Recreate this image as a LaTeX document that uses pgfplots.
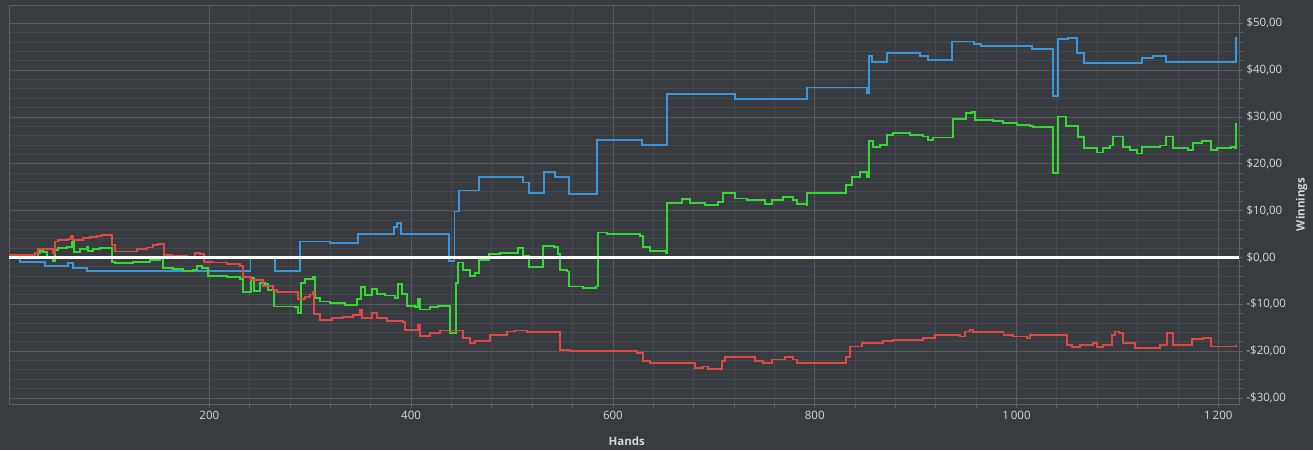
\documentclass[border=0pt]{standalone}
\usepackage{pgfplots}
\pgfplotsset{compat=1.18}
\usepackage{fontspec}
\setmainfont{Open Sans}
\definecolor{bg}{HTML}{383B3F}
\definecolor{axisc}{HTML}{5C5F63}
\definecolor{majgrid}{HTML}{575A5E}
\definecolor{mingrid}{HTML}{46494D}
\definecolor{txt}{HTML}{D6D6D6}
\definecolor{sblue}{HTML}{3A96D8}
\definecolor{sgreen}{HTML}{33D833}
\definecolor{sred}{HTML}{E04848}
\begin{document}
\begin{tikzpicture}
\fill[bg] (-9pt,-46pt) rectangle (1304pt,404pt);
\begin{axis}[
  at={(0pt,0pt)}, anchor=south west,
  scale only axis, width=1230pt, height=399pt,
  xmin=1.5, xmax=1220.5, ymin=-31.3, ymax=53.9,
  axis background/.style={fill=bg},
  axis line style={draw=axisc, line width=0.8pt},
  xtick={200,400,...,1200},
  xticklabels={200,400,600,800,1\,000,1\,200},
  minor x tick num=4,
  ytick={-30,-20,...,50},
  yticklabels={{-\$30,00},{-\$20,00},{-\$10,00},{\$0,00},{\$10,00},{\$20,00},{\$30,00},{\$40,00},{\$50,00}},
  minor y tick num=4,
  grid=both,
  major grid style={draw=majgrid, line width=0.8pt},
  minor grid style={draw=mingrid, line width=0.8pt},
  tick align=outside,
  xtick pos=left, ytick pos=right,
  xticklabel pos=left, yticklabel pos=right,
  major tick length=4pt, minor tick length=4pt,
  tick style={draw=axisc, line width=0.8pt},
  ticklabel style={text=txt, font=\fontsize{11.5}{13}\selectfont},
  yticklabel style={anchor=west},
  clip=true,
]
\addplot[sblue, line width=1.8pt, const plot] coordinates {
(1.5,0) (12.4,-0.9) (37.2,-1.8) (60,-1.2) (65,-2.3) (78.8,-2.9) (240.8,-0.1) (265,-2.9) (290,3.4) (319.6,3.0) (347,5.0) (383,6.5) (386,7.4) (389.7,5.0) (437.5,-0.7) (443,9.8) (447.5,14.3) (467.3,17.1) (510.6,16.0) (516.8,13.7) (531.7,18.3) (542.6,17.1) (556.5,13.6) (584,25.1) (628.8,24.0) (653.3,34.9) (721,33.8) (792,36.3) (851.6,35.1) (853.8,43.0) (856.7,41.8) (871.4,43.6) (904.4,43.0) (912.3,42.2) (935.8,46.1) (958,45.5) (964.8,45.2) (1015,44.5) (1036,34.5) (1041,46.6) (1051,46.8) (1060,43.7) (1067,41.5) (1124,42.5) (1135.3,43.0) (1148.4,41.8) (1217.2,46.8) (1218,46.8)
};
\addplot[sgreen, line width=1.8pt, const plot] coordinates {
(1.5,0.5) (25,0.1) (30,0.9) (32,1.45) (35,1.2) (39,0.2) (45,-0.75) (47,1.6) (50,2.0) (59,2.3) (64,3.4) (66,1.2) (72,1.75) (79,2.2) (80,1.45) (85,1.75) (92,2.0) (101.6,2.1) (103.6,-0.9) (106.5,-1.25) (124.4,-0.9) (141,-0.5) (151,0) (154,-2.3) (164,-2.5) (174,-2.9) (184,-2.7) (188,-1.8) (193,-2.3) (199,-3.95) (217.5,-4.2) (230.4,-4.65) (233.7,-7.3) (241,-4.4) (244.3,-7.1) (250.2,-5.4) (255.2,-5.7) (258.2,-6.9) (264,-10.5) (285,-10.6) (288,-11.9) (290.6,-5.5) (295,-4.65) (302.8,-4.1) (304.8,-8.7) (309.7,-9.4) (319.6,-9.8) (334.5,-10.1) (346,-8.9) (350.4,-6.4) (354.3,-8.0) (361,-6.8) (366,-7.8) (374,-8.15) (384,-8.7) (387,-5.7) (390.7,-7.8) (395.6,-10.35) (403.9,-10.6) (406.8,-8.9) (408.8,-11.1) (418.7,-10.6) (426.7,-10.35) (438.5,-16.2) (444.5,-5.5) (446.5,-1.1) (451.5,-2.7) (458.4,-3.9) (463.3,-3.4) (467.3,-0.5) (477.2,0.75) (488,1.0) (506,2.0) (510.6,0.3) (516.8,-2.0) (530.7,2.45) (541.6,2.2) (545.3,0.75) (547.6,-2.7) (554.2,-3.0) (556.5,-6.2) (570.4,-6.6) (583.3,-6.2) (585.2,5.3) (593.9,5.0) (626.9,4.6) (630,2.3) (636.8,1.4) (652.6,1.0) (654,11.7) (668.3,12.4) (676.4,11.7) (691.3,11.2) (704.5,11.9) (709.4,13.7) (721,12.6) (732.6,12.3) (750.7,11.35) (757.4,12.3) (768.9,12.85) (778.8,12.3) (782.2,11.35) (792,11.2) (792.7,13.7) (811.9,13.8) (831,15.5) (836.6,17.25) (845,18.3) (852.1,17.1) (854,24.9) (858,23.5) (864.7,24.0) (871.4,26.2) (877.7,26.5) (894.4,26.2) (907.3,25.8) (912.3,25.1) (917.2,25.6) (936.7,29.6) (950,30.8) (955.6,31.1) (959,29.4) (976.7,29.2) (986.6,28.65) (1000.2,28.3) (1013.4,28.1) (1016.4,27.8) (1036,18.0) (1041,30.1) (1049,28.1) (1061.3,25.65) (1067,23.3) (1079.5,22.4) (1086,23.45) (1092.7,23.9) (1096,25.8) (1105.2,23.65) (1112.5,23.0) (1119.2,22.2) (1124,23.65) (1142.2,23.9) (1148.4,25.8) (1155.4,23.3) (1170.3,22.95) (1174.6,24.5) (1183.5,24.9) (1192.5,22.95) (1198.4,23.3) (1212.3,23.65) (1216.6,23.3) (1217.6,28.5) (1218,28.5)
};
\addplot[sred, line width=1.8pt, const plot] coordinates {
(1.5,0.5) (25,0.1) (27,0.9) (30,1.75) (45.4,1.0) (47,3.4) (50.3,3.7) (60.3,4.0) (62.6,4.6) (65.2,3.7) (75,4.2) (81.8,4.3) (88.4,4.6) (93.4,4.8) (101.6,4.9) (103.3,2.7) (106.5,1.25) (128,1.75) (138,2.1) (144.5,2.7) (149.5,2.9) (155,0.5) (162.7,0.3) (177.6,0.1) (185.8,0.9) (190.8,0.7) (194.7,-0.9) (204,-1.1) (217.2,-1.4) (230.4,-1.8) (233.7,-4.2) (241,-4.8) (253.5,-6.1) (263.4,-6.9) (266.8,-7.3) (288.2,-8.9) (294.8,-8.5) (299.8,-7.9) (303,-7.3) (304,-12.1) (309.7,-13.3) (321.3,-12.9) (332.8,-12.8) (342.7,-12.3) (349.4,-11.2) (351,-12.9) (361,-11.9) (366,-12.9) (375.8,-13.5) (392.3,-13.8) (394,-15.5) (407,-14.4) (408.8,-16.8) (418.7,-16.1) (428.6,-15.6) (451.7,-17.25) (458.4,-18.3) (463.3,-17.9) (478.2,-16.5) (494.7,-15.8) (503,-15.6) (514.6,-16.0) (547.6,-19.7) (557.5,-20.0) (623.6,-20.4) (630,-22.2) (636.8,-22.5) (660,-22.6) (676.4,-22.5) (681.4,-23.65) (689.6,-23.3) (694.6,-23.9) (707.8,-22.2) (711,-21.3) (740.8,-22.2) (749,-22.5) (757.4,-21.8) (770.6,-21.3) (778.8,-21.8) (782.2,-22.5) (792,-22.6) (831,-21.2) (835,-19.0) (846.6,-18.2) (868,-17.8) (877.9,-17.6) (907.6,-17.25) (919.2,-16.5) (944,-16.9) (949,-15.8) (953.9,-15.4) (957.2,-16.0) (987,-16.5) (996.8,-16.9) (1010,-17.2) (1013.4,-16.5) (1046.4,-16.6) (1049.7,-18.7) (1054.7,-19.2) (1063,-18.7) (1076,-18.3) (1079.5,-19.2) (1086,-18.7) (1094.3,-16.5) (1097.6,-15.8) (1101.9,-16.2) (1105.9,-18.2) (1117.4,-19.4) (1142.2,-18.7) (1149,-16.2) (1155.4,-18.7) (1173.6,-17.5) (1185.1,-17.25) (1192.5,-19.0) (1217.6,-18.9) (1218,-18.9)
};
\addplot[white, line width=2.6pt] coordinates {(1.5,0) (1220.5,0)};
\end{axis}
\node[text=txt, font=\bfseries\fontsize{11.5}{13}\selectfont, rotate=90] at (1292.5pt,199.5pt) {Winnings};
\node[text=txt, font=\bfseries\fontsize{11.5}{13}\selectfont] at (617.7pt,-36.7pt) {Hands};
\end{tikzpicture}
\end{document}
